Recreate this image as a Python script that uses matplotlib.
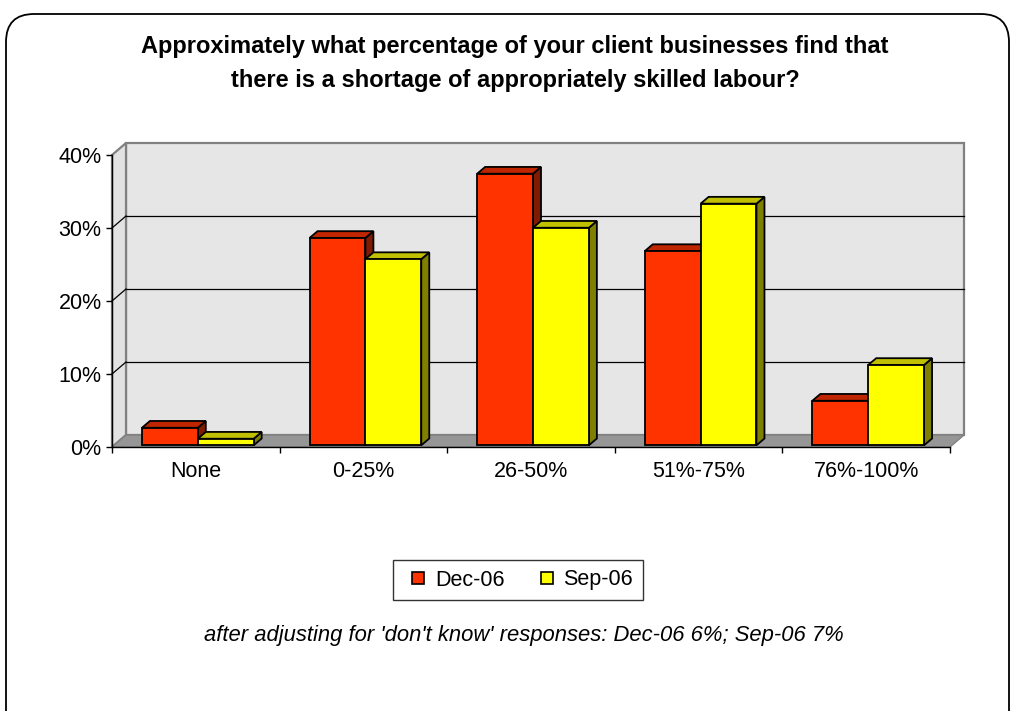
import matplotlib
matplotlib.use("Agg")
import matplotlib.pyplot as plt
from matplotlib.patches import Polygon, FancyBboxPatch
from matplotlib.lines import Line2D
from matplotlib.transforms import IdentityTransform

# ---- data ----
categories = ["None", "0-25%", "26-50%", "51%-75%", "76%-100%"]
dec_06 = [2.4, 28.4, 37.2, 26.6, 6.1]
sep_06 = [0.9, 25.5, 29.8, 33.1, 11.0]
series_names = ["Dec-06", "Sep-06"]
y_ticks = [0, 10, 20, 30, 40]
y_tick_labels = ["0%", "10%", "20%", "30%", "40%"]

title_lines = ["Approximately what percentage of your client businesses find that",
               "there is a shortage of appropriately skilled labour?"]
footnote = "after adjusting for 'don't know' responses: Dec-06 6%; Sep-06 7%"

plt.rcParams["font.family"] = ["Liberation Sans", "DejaVu Sans"]

W, H = 1014, 711
fig = plt.figure(figsize=(W / 100, H / 100), dpi=100)
fig.patch.set_facecolor("white")

ax = fig.add_axes([112 / W, 1 - 447 / H, 838 / W, 292 / H])
ax.set_xlim(0, len(categories))
ax.set_ylim(0, 40)
ax.patch.set_visible(False)

# depth offsets (pixels) for walls and bars
WALL = (14, 12)
BAR_F = (2, 1.7)
BAR_B = (10, 8.5)

ID = IdentityTransform()


def disp(x, y, off=(0, 0)):
    px, py = ax.transData.transform((x, y))
    return (px + off[0], py + off[1])


def poly(pts, z, **kw):
    p = Polygon(pts, closed=True, transform=ID, clip_on=False, zorder=z, **kw)
    ax.add_artist(p)
    return p


def seg(p0, p1, z, **kw):
    ax.add_artist(Line2D([p0[0], p1[0]], [p0[1], p1[1]], transform=ID,
                         clip_on=False, zorder=z, **kw))


n = len(categories)
ymax = y_ticks[-1]
wall_col = "#e6e6e6"
edge_gray = "#808080"

# back wall
poly([disp(0, 0, WALL), disp(n, 0, WALL), disp(n, ymax, WALL), disp(0, ymax, WALL)],
     0.5, facecolor=wall_col, edgecolor=edge_gray, linewidth=1.6)
# side wall
poly([disp(0, 0), disp(0, 0, WALL), disp(0, ymax, WALL), disp(0, ymax)],
     0.6, facecolor="#e2e2e2", edgecolor=edge_gray, linewidth=1.6)
# gridlines on back wall + side wall
for t in y_ticks[1:-1]:
    seg(disp(0, t, WALL), disp(n, t, WALL), 0.7, color="black", linewidth=0.9)
    seg(disp(0, t), disp(0, t, WALL), 0.7, color="black", linewidth=0.9)
# floor
poly([disp(0, 0), disp(n, 0), disp(n, 0, WALL), disp(0, 0, WALL)],
     0.8, facecolor="#969696", edgecolor=edge_gray, linewidth=1.0)

# bars
series = [(dec_06, "#ff3300", "#bf2600", "#801a00"),
          (sep_06, "#ffff00", "#c0c000", "#808000")]
bar_w = 1 / 3
z = 3
for i in range(n):
    for s, (vals, front_c, top_c, side_c) in enumerate(series):
        x0 = i + 1 / 6 + s * bar_w
        x1 = x0 + bar_w
        v = vals[i]
        kw = dict(edgecolor="black", linewidth=1.3, joinstyle="miter")
        poly([disp(x1, 0, BAR_F), disp(x1, 0, BAR_B), disp(x1, v, BAR_B), disp(x1, v, BAR_F)],
             z, facecolor=side_c, **kw)
        poly([disp(x0, v, BAR_F), disp(x1, v, BAR_F), disp(x1, v, BAR_B), disp(x0, v, BAR_B)],
             z + 0.1, facecolor=top_c, **kw)
        poly([disp(x0, 0, BAR_F), disp(x1, 0, BAR_F), disp(x1, v, BAR_F), disp(x0, v, BAR_F)],
             z + 0.2, facecolor=front_c, **kw)
        z += 1

# axes lines and ticks
for side in ("top", "right"):
    ax.spines[side].set_visible(False)
for side in ("left", "bottom"):
    ax.spines[side].set_color("black")
    ax.spines[side].set_linewidth(1.0)
    ax.spines[side].set_zorder(2)

ax.set_yticks(y_ticks)
ax.set_yticklabels(y_tick_labels)
ax.tick_params(axis="y", length=4.5, width=1, direction="out", labelsize=15.5, pad=3,
               colors="black")
ax.set_xticks(range(n + 1))
ax.set_xticklabels([])
ax.set_xticks([i + 0.5 for i in range(n)], minor=True)
ax.set_xticklabels(categories, minor=True)
ax.tick_params(axis="x", which="major", length=4.5, width=1, direction="out")
ax.tick_params(axis="x", which="minor", length=0, labelsize=15.5, pad=10)

# title
fig.text(515 / W, 1 - 47 / H, title_lines[0], ha="center", va="center",
         fontsize=17, fontweight="bold")
fig.text(515 / W, 1 - 80 / H, title_lines[1], ha="center", va="center",
         fontsize=17, fontweight="bold")

# legend
handles = [Line2D([], [], linestyle="none", marker="s", markersize=8.6,
                  markerfacecolor=c, markeredgecolor="black", markeredgewidth=1.2)
           for c in ("#ff3300", "#ffff00")]
leg = fig.legend(handles, series_names, loc="center", ncol=2,
                 bbox_to_anchor=(518 / W, 1 - 580 / H), fontsize=15.5,
                 frameon=True, fancybox=False, edgecolor="black",
                 handlelength=1.42, handletextpad=0.05, columnspacing=1.27,
                 borderpad=0.45)
leg.get_frame().set_linewidth(1.0)

# footnote
fig.text(524 / W, 1 - 636 / H, footnote, ha="center", va="center",
         fontsize=15.8, style="italic")

# rounded outer frame
frame = FancyBboxPatch((6, -30), 1003, 697 + 30, boxstyle="round,pad=0,rounding_size=28",
                       transform=ID, facecolor="none", edgecolor="black", linewidth=1.3)
fig.add_artist(frame)

fig.savefig("out.png", dpi=100)
